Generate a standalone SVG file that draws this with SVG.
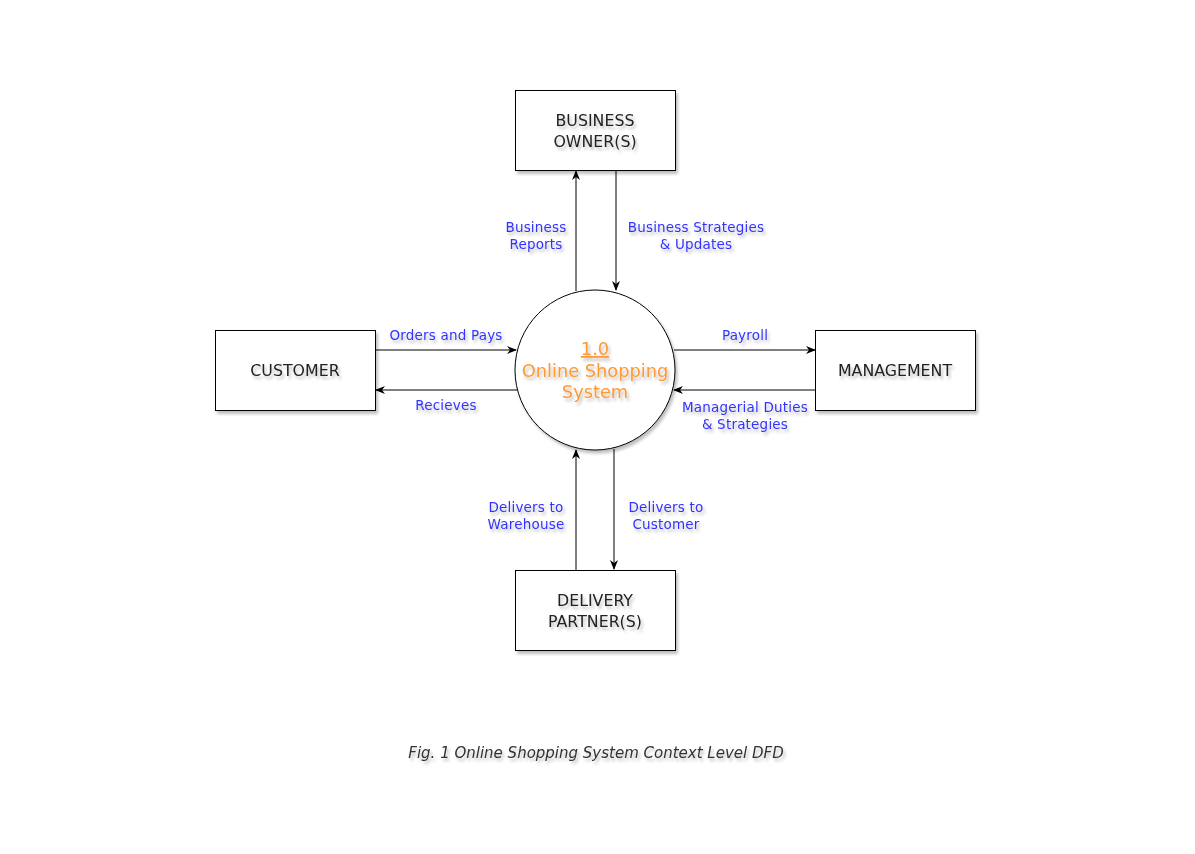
<svg xmlns="http://www.w3.org/2000/svg" width="1195" height="854" viewBox="0 0 1195 854">
<style>
.box{fill:#fff;stroke:#000;stroke-width:1;filter:url(#sh)}
.nt{font-family:"DejaVu Sans",Verdana,sans-serif;font-size:15.8px;fill:#222;text-anchor:middle;filter:url(#tsh)}
.lb{font-family:"DejaVu Sans",Verdana,sans-serif;font-size:13.5px;letter-spacing:0.2px;fill:#3333ff;text-anchor:middle;filter:url(#tsh)}
.ct{font-family:"DejaVu Sans",Verdana,sans-serif;font-size:17.8px;fill:#ff9933;text-anchor:middle;filter:url(#tsh)}
.cap{font-family:"DejaVu Sans",Verdana,sans-serif;font-size:15px;font-style:italic;fill:#333;text-anchor:middle;filter:url(#tsh)}
.ln{fill:none;stroke:#000;stroke-width:1;marker-end:url(#ah)}
</style>
<defs>
<filter id="sh" x="-20%" y="-20%" width="150%" height="150%"><feDropShadow dx="2" dy="3" stdDeviation="1.5" flood-color="#000" flood-opacity="0.25"/></filter>
<filter id="tsh" x="-20%" y="-50%" width="150%" height="250%"><feDropShadow dx="2" dy="3" stdDeviation="1.5" flood-color="#000" flood-opacity="0.25"/></filter>
<marker id="ah" viewBox="0 0 10 10" refX="9" refY="5" markerWidth="10" markerHeight="10" orient="auto" markerUnits="userSpaceOnUse"><path d="M0,1 L10,5 L0,9 L3,5 Z" fill="#000"/></marker>
</defs>
<rect width="1195" height="854" fill="#fff"/>
<g id="connectors">
<line class="ln" x1="576" y1="291" x2="576" y2="171"/>
<line class="ln" x1="616" y1="171" x2="616" y2="290"/>
<line class="ln" x1="376" y1="350" x2="516" y2="350"/>
<line class="ln" x1="517" y1="390" x2="376" y2="390"/>
<line class="ln" x1="674" y1="350" x2="815" y2="350"/>
<line class="ln" x1="815" y1="390" x2="674" y2="390"/>
<line class="ln" x1="576" y1="570" x2="576" y2="450"/>
<line class="ln" x1="614" y1="449" x2="614" y2="569"/>
<text class="lb" x="536" y="232">Business</text>
<text class="lb" x="536" y="249">Reports</text>
<text class="lb" x="696" y="232">Business Strategies</text>
<text class="lb" x="696" y="249">&amp; Updates</text>
<text class="lb" x="446" y="340">Orders and Pays</text>
<text class="lb" x="446" y="410">Recieves</text>
<text class="lb" x="745" y="340">Payroll</text>
<text class="lb" x="745" y="412">Managerial Duties</text>
<text class="lb" x="745" y="429">&amp; Strategies</text>
<text class="lb" x="526" y="512">Delivers to</text>
<text class="lb" x="526" y="529">Warehouse</text>
<text class="lb" x="666" y="512">Delivers to</text>
<text class="lb" x="666" y="529">Customer</text>
</g>
<g id="business-owner">
<rect class="box" x="515.5" y="90.5" width="160" height="80"/>
<text class="nt" x="595" y="126">BUSINESS</text>
<text class="nt" x="595" y="147">OWNER(S)</text>
</g>
<g id="customer">
<rect class="box" x="215.5" y="330.5" width="160" height="80"/>
<text class="nt" x="295" y="376">CUSTOMER</text>
</g>
<g id="management">
<rect class="box" x="815.5" y="330.5" width="160" height="80"/>
<text class="nt" x="895" y="376">MANAGEMENT</text>
</g>
<g id="delivery-partner">
<rect class="box" x="515.5" y="570.5" width="160" height="80"/>
<text class="nt" x="595" y="606">DELIVERY</text>
<text class="nt" x="595" y="627">PARTNER(S)</text>
</g>
<g id="process">
<circle class="box" cx="595" cy="370" r="80"/>
<text class="ct" x="595" y="355" text-decoration="underline">1.0</text>
<text class="ct" x="595" y="377">Online Shopping</text>
<text class="ct" x="595" y="398">System</text>
</g>
<g id="caption">
<text class="cap" x="596" y="758">Fig. 1 Online Shopping System Context Level DFD</text>
</g>
</svg>
